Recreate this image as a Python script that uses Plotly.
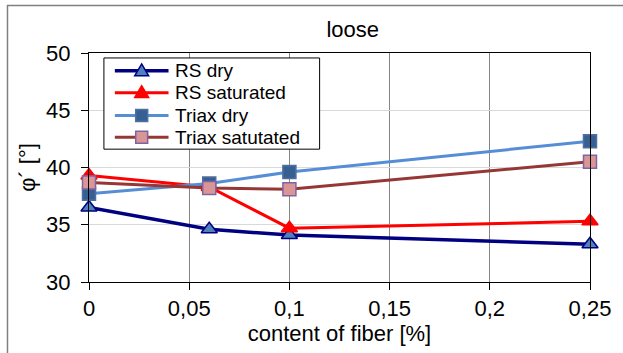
import plotly.graph_objects as go

# Fiber content (%) and friction angle (deg) per test series
fiber = [0, 0.06, 0.1, 0.25]
rs_dry = [36.5, 34.6, 34.1, 33.3]
rs_sat = [39.3, 38.3, 34.7, 35.3]
triax_dry = [37.7, 38.6, 39.6, 42.3]
triax_sat = [38.7, 38.2, 38.1, 40.5]

series_names = ["RS dry", "RS saturated", "Triax dry", "Triax satutated"]
x_ticks = [0, 0.05, 0.1, 0.15, 0.2, 0.25]
y_ticks = [30, 35, 40, 45, 50]

FONT = "Liberation Sans, Arial, sans-serif"
W, H = 623, 353
ML, MR, MT, MB = 89, 30, 53, 69
PW, PH = W - ML - MR, H - MT - MB

styles = [
    dict(line=dict(color="#000080", width=3.5),
         marker=dict(symbol="triangle-up", size=14, color="#4F81BD",
                     line=dict(color="#000080", width=1.5))),
    dict(line=dict(color="#FF0000", width=3),
         marker=dict(symbol="triangle-up", size=14, color="#FF0000",
                     line=dict(color="#FF0000", width=1.5))),
    dict(line=dict(color="#558ED5", width=3),
         marker=dict(symbol="square", size=13, color="#376092",
                     line=dict(color="#4F6FA0", width=1.5))),
    dict(line=dict(color="#953735", width=3),
         marker=dict(symbol="square", size=13, color="#D99694",
                     line=dict(color="#8064A2", width=1.5))),
]

fig = go.Figure()
for name, vals, st in zip(series_names, [rs_dry, rs_sat, triax_dry, triax_sat], styles):
    fig.add_trace(go.Scatter(x=fiber, y=vals, name=name, mode="lines+markers",
                             line=st["line"], marker=st["marker"], cliponaxis=False,
                             showlegend=False))


def px(x):
    return (x - ML) / PW


def py(y):
    return (H - MB - y) / PH


# Legend box with long line samples
fig.add_shape(type="rect", xref="paper", yref="paper",
              x0=px(104), x1=px(321), y0=py(150), y1=py(58),
              line=dict(color="#000000", width=1), fillcolor="white", layer="above")
row_y = [71, 93, 116, 138]
for name, st, ry in zip(series_names, styles, row_y):
    fig.add_shape(type="line", xref="paper", yref="paper",
                  x0=px(115), x1=px(169), y0=py(ry), y1=py(ry),
                  line=dict(color=st["line"]["color"], width=st["line"]["width"]),
                  layer="above")
    m = st["marker"]
    cx = 142
    if m["symbol"] == "triangle-up":
        h = 7
        path = (f"M {px(cx - 7)} {py(ry + 5)} L {px(cx + 7)} {py(ry + 5)} "
                f"L {px(cx)} {py(ry - 7)} Z")
        fig.add_shape(type="path", xref="paper", yref="paper", path=path,
                      fillcolor=m["color"], line=dict(color=m["line"]["color"], width=1.5),
                      layer="above")
    else:
        fig.add_shape(type="rect", xref="paper", yref="paper",
                      x0=px(cx - 6), x1=px(cx + 6), y0=py(ry + 6), y1=py(ry - 6),
                      fillcolor=m["color"], line=dict(color=m["line"]["color"], width=1.5),
                      layer="above")
    fig.add_annotation(text=name, xref="paper", yref="paper", x=px(173), y=py(ry),
                       xanchor="left", yanchor="middle", showarrow=False,
                       font=dict(family=FONT, size=19, color="#000000"))

fig.update_layout(
    width=W, height=H,
    margin=dict(l=ML, r=MR, t=MT, b=MB),
    paper_bgcolor="white", plot_bgcolor="white",
    separators=",.",
    font=dict(family=FONT, size=22, color="#000000"),
    title=dict(text="loose", x=328 / W, xref="paper", xanchor="center",
               y=1 - 29 / H, yanchor="middle",
               font=dict(family=FONT, size=22, color="#000000")),
    showlegend=False,
    xaxis=dict(range=[0, 0.25], tickvals=x_ticks, showgrid=True, gridcolor="#868686",
               gridwidth=1, showline=True, linecolor="#000000", linewidth=1,
               mirror=True, ticks="outside", ticklen=7, tickcolor="#000000",
               zeroline=False, tickfont=dict(size=22),
               title=dict(text="content of fiber [%]", font=dict(size=22), standoff=4)),
    yaxis=dict(range=[30, 50], tickvals=y_ticks, showgrid=True, gridcolor="#D9D9D9",
               gridwidth=1, showline=True, linecolor="#000000", linewidth=1,
               mirror=True, ticks="outside", ticklen=7, tickcolor="#000000",
               zeroline=False, tickfont=dict(size=22), ticklabelstandoff=6,
               title=dict(text="φ´ [°]", font=dict(size=22), standoff=4)),
)

# Outer chart-area frame
fig.add_shape(type="rect", xref="paper", yref="paper",
              x0=px(7), x1=1.2, y0=-0.5, y1=py(5),
              line=dict(color="#808080", width=1.5), fillcolor="rgba(0,0,0,0)", layer="below")

fig.write_html("out.html")
